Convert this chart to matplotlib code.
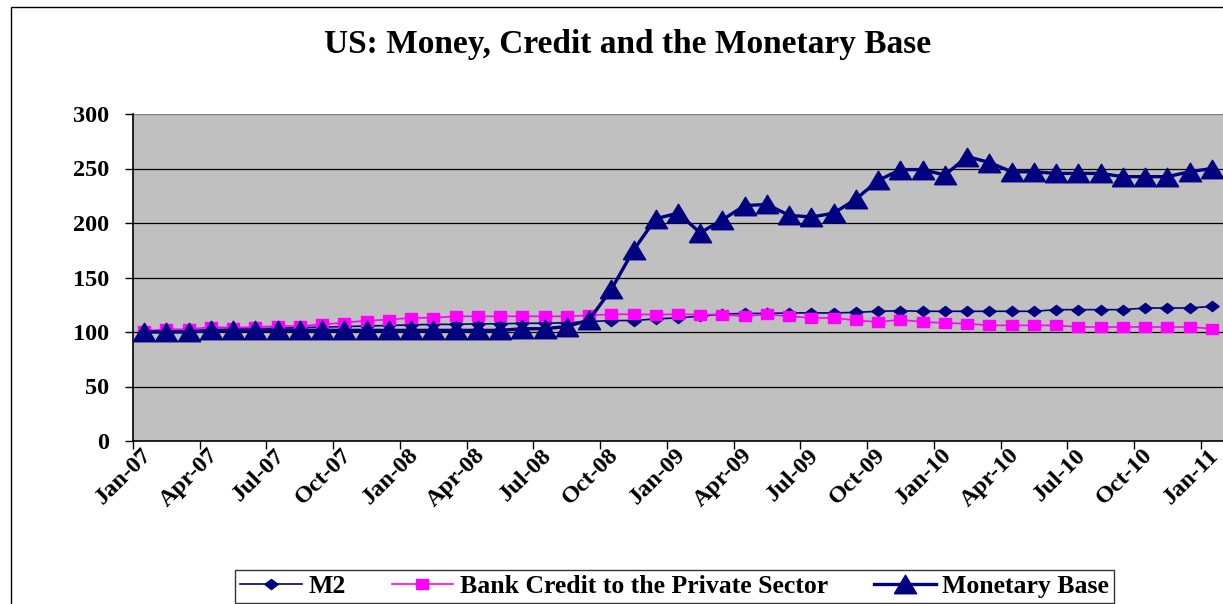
import numpy as np
import pandas as pd
import matplotlib
matplotlib.use("Agg")
import matplotlib.pyplot as plt
import matplotlib.transforms as mtransforms
from matplotlib.patches import Rectangle

# Index levels, Jan-07 .. Jan-11 (monthly)
months = pd.date_range("2007-01-01", periods=49, freq="MS").strftime("%b-%y").tolist()

m2 = [100, 100.5, 101, 102, 102.5, 103, 103.5, 104, 104.5, 105,
      105.5, 106, 106.5, 107, 107, 107.5, 107.5, 108, 108, 108.5,
      109.5, 110.5, 110.5, 112, 113, 114.5, 116.5, 117, 117, 117.5,
      117.5, 117.5, 118, 119, 119.5, 119, 119, 119, 119, 119,
      119, 120.5, 120.5, 120.5, 120.5, 122, 122, 122, 123.5]

bank_credit = [101, 102.5, 102.5, 104.5, 104, 104.5, 105.5, 105.5, 107, 108.5,
               110.5, 111.3, 113, 113, 114.4, 114.4, 114.4, 114.4, 114.4, 114.4,
               115.3, 116.2, 116.2, 116, 116.2, 116, 116, 114.4, 116.2, 114.4,
               112.9, 112.9, 110.7, 109.2, 111.3, 109.2, 108.3, 107.6, 106.1, 106.1,
               106.1, 106.1, 104.6, 104.6, 104.6, 104.6, 104.6, 104.6, 103.1]

monetary_base = [100, 100, 100, 101.5, 101.5, 101.5, 101.5, 101.5, 101.5, 101.5,
                 101.5, 101.5, 101.5, 101.5, 101.5, 101.5, 101.5, 103, 103, 105,
                 111, 139, 175, 204, 209, 191, 203, 216, 217, 207,
                 205.5, 209, 222, 239, 249, 249, 244, 261, 255.5, 247,
                 247, 245.5, 245.5, 245.5, 242.5, 242.5, 242.5, 247, 250]

series_names = ["M2", "Bank Credit to the Private Sector", "Monetary Base"]

NAVY = "#000080"
PINK = "#FF00FF"
PLOT_BG = "#C0C0C0"
FONT = "Liberation Serif"

# wide markers (the chart is drawn a bit stretched horizontally)
DIAMOND = [(-1.3, 0), (0, 1), (1.3, 0), (0, -1), (-1.3, 0)]
SQUARE = [(-1.2, -1), (1.2, -1), (1.2, 1), (-1.2, 1), (-1.2, -1)]
TRIANGLE = [(-1.2, -1), (1.2, -1), (0, 1), (-1.2, -1)]

plt.rc("font", family=FONT, weight="bold")

fig = plt.figure(figsize=(12.23, 6.04), dpi=100)
fig.patch.set_facecolor("white")

# outer chart frame
fig.patches.append(Rectangle((11 / 1223, -0.05), 1.2, 1 - 7 / 604 + 0.05,
                             transform=fig.transFigure, fill=False,
                             edgecolor="black", linewidth=1.0))

ax = fig.add_axes([133 / 1223, (604 - 441) / 604, 1 - 133 / 1223, 327 / 604])
ax.set_facecolor(PLOT_BG)

x = np.arange(len(months))
ax.plot(x, m2, color=NAVY, linewidth=1.2, marker=DIAMOND, markersize=9.5,
        markerfacecolor=NAVY, markeredgecolor=NAVY, label=series_names[0], zorder=3)
ax.plot(x, bank_credit, color=PINK, linewidth=1.2, marker=SQUARE, markersize=8.6,
        markerfacecolor=PINK, markeredgecolor=PINK, label=series_names[1], zorder=4)
ax.plot(x, monetary_base, color=NAVY, linewidth=2.4, marker=TRIANGLE, markersize=16,
        markerfacecolor=NAVY, markeredgecolor=NAVY, label=series_names[2], zorder=5)

ax.set_xlim(-0.5, len(months) - 0.5)
ax.set_ylim(0, 300)

# y axis
ax.set_yticks(np.arange(0, 301, 50))
ax.tick_params(axis="y", direction="out", length=6, width=1, pad=11, labelsize=17.5)
for yv in range(50, 301, 50):
    ax.axhline(yv, color="black" if yv < 300 else "#808080", linewidth=0.9, zorder=1)

# x axis: tick marks between quarters, labels under every third month
ax.set_xticks(np.arange(-0.5, len(months), 3), minor=True)
ax.set_xticks(x[::3])
ax.set_xticklabels(months[::3])
ax.tick_params(axis="x", which="minor", direction="out", length=6, width=1)
ax.tick_params(axis="x", which="major", length=0, pad=8, labelsize=17.5)
shift = mtransforms.ScaledTranslation(4 / 100, 0, fig.dpi_scale_trans)
for lbl in ax.get_xticklabels():
    lbl.set_rotation(45)
    lbl.set_ha("right")
    lbl.set_va("center")
    lbl.set_rotation_mode("anchor")
    lbl.set_transform(lbl.get_transform() + shift)

for side in ["top", "right"]:
    ax.spines[side].set_visible(False)
ax.spines["left"].set_linewidth(1.2)
ax.spines["bottom"].set_linewidth(1.2)

fig.text(0.513, 1 - 45 / 604, "US: Money, Credit and the Monetary Base",
         ha="center", va="center", fontsize=24, fontweight="bold")

leg = fig.legend(loc="lower center", bbox_to_anchor=(674.5 / 1223, 0.0015),
                 ncol=3, fontsize=18.5, frameon=True, fancybox=False,
                 edgecolor="black", handlelength=2.4, handletextpad=0.25,
                 columnspacing=1.8, borderpad=0.2, borderaxespad=0)
leg.get_frame().set_linewidth(1.0)

fig.savefig("out.png", dpi=100)
